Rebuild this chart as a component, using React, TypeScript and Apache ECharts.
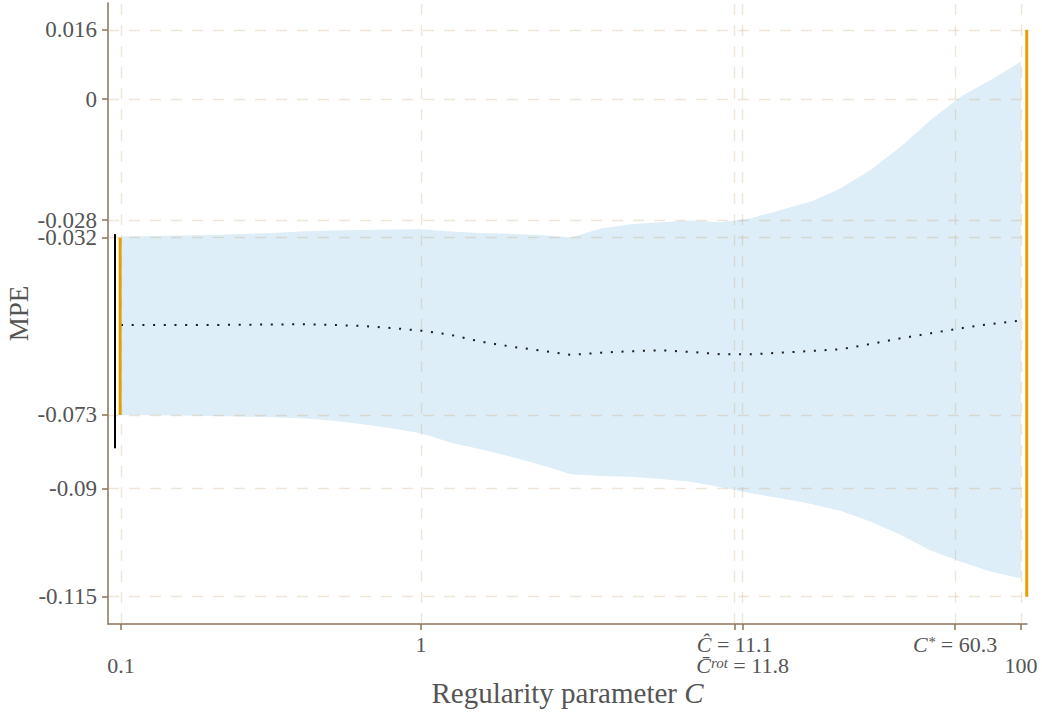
import React, { useEffect, useRef } from "react";
import * as echarts from "echarts";

// Regularity parameter C (log grid)
const cValues = [
  0.1, 0.126, 0.158, 0.2, 0.251, 0.316, 0.398, 0.501, 0.631, 0.794,
  1, 1.26, 1.58, 2, 2.51, 3.16, 3.98, 5.01, 6.31, 7.94,
  10, 12.6, 15.8, 20, 25.1, 31.6, 39.8, 50.1, 63.1, 79.4, 100,
];

const upperBand = [
  -0.03178, -0.03162, -0.0315, -0.03139, -0.03116, -0.03093, -0.03058, -0.03035, -0.03023, -0.03012,
  -0.03007, -0.03058, -0.03093, -0.03116, -0.03139, -0.03197, -0.02989, -0.02891, -0.02845, -0.02808,
  -0.02845, -0.02753, -0.02561, -0.02369, -0.02059, -0.01636, -0.01097, -0.0048, 0.00058, 0.00444, 0.00867,
];

const lowerBand = [
  -0.073, -0.07307, -0.07314, -0.07323, -0.07334, -0.07351, -0.07376, -0.07427, -0.07508, -0.07607,
  -0.07723, -0.0794, -0.08093, -0.08264, -0.08456, -0.08671, -0.0871, -0.08726, -0.08779, -0.08842,
  -0.08971, -0.0911, -0.09225, -0.09357, -0.09519, -0.09766, -0.10074, -0.10437, -0.10691, -0.10922, -0.11075,
];

const meanMPE = [
  -0.05219, -0.05219, -0.05219, -0.05219, -0.05215, -0.0521, -0.05203, -0.05219, -0.05242, -0.05289,
  -0.05351, -0.0545, -0.05605, -0.05721, -0.05813, -0.05913, -0.0586, -0.05827, -0.05804, -0.05843,
  -0.05897, -0.05897, -0.0586, -0.0582, -0.05781, -0.05658, -0.05527, -0.05411, -0.05296, -0.05196, -0.0512,
];

// interval markers
const blackBarX = 0.0955;
const blackBarY = [-0.0312, -0.0807];
const orangeLeftX = 0.0993;
const orangeLeftY = [-0.032, -0.073];
const orangeRightX = 104.5;
const orangeRightY = [0.016, -0.115];

// ticks
const xTickValues = [0.1, 1, 11.1, 11.8, 60.3, 100];
const xTickLabels = [
  "\n0.1",
  "1",
  "{i|Ĉ} = 11.1",
  "\n{i|C̄}{s|rot} = 11.8",
  "{i|C}{s|*} = 60.3",
  "\n100",
];
const yTickValues = [0.016, 0, -0.028, -0.032, -0.073, -0.09, -0.115];
const yTickLabels = ["0.016", "0", "-0.028", "-0.032", "-0.073", "-0.09", "-0.115"];

const FONT = "'Liberation Serif', 'DejaVu Serif', serif";
const TEXT = "#555555";
const AXIS = "#8c7358";
const GRID = "rgba(200,160,120,0.28)";

function findLabel(values: number[], labels: string[], v: number) {
  for (let i = 0; i < values.length; i++) {
    if (Math.abs(values[i] - v) < 1e-6 * Math.max(1, Math.abs(values[i]))) return labels[i];
  }
  return "";
}

export default function App() {
  const ref = useRef<HTMLDivElement>(null);

  useEffect(() => {
    document.body.style.margin = "0";
    if (!ref.current) return;
    const chart = echarts.init(ref.current, null, { renderer: "svg" });

    const pair = (ys: number[]) => cValues.map((c, i) => [c, ys[i]]);

    const option: any = {
      animation: false,
      backgroundColor: "#ffffff",
      grid: {
        left: 108,
        top: 3,
        right: 15,
        bottom: 89,
        containLabel: false,
        outerBoundsMode: "none",
      },
      xAxis: {
        type: "log",
        logBase: 10,
        min: 0.0905,
        max: 104.7,
        name: "Regularity parameter {i|C}",
        nameLocation: "middle",
        nameGap: 54,
        nameMoveOverlap: false,
        nameTextStyle: {
          fontFamily: FONT,
          fontSize: 29,
          color: TEXT,
          rich: { i: { fontFamily: FONT, fontSize: 29, color: TEXT, fontStyle: "italic" } },
        },
        axisLine: { show: true, onZero: false, lineStyle: { color: AXIS, width: 1.5 } },
        axisTick: {
          show: true,
          customValues: xTickValues,
          length: 6,
          lineStyle: { color: AXIS, width: 1.5 },
        },
        axisLabel: {
          show: true,
          customValues: xTickValues,
          margin: 10,
          fontFamily: FONT,
          fontSize: 22,
          lineHeight: 21,
          color: TEXT,
          formatter: (v: number) => findLabel(xTickValues, xTickLabels, v),
          rich: {
            i: { fontFamily: FONT, fontSize: 22, lineHeight: 21, color: TEXT, fontStyle: "italic" },
            s: {
              fontFamily: FONT,
              fontSize: 15,
              lineHeight: 15,
              color: TEXT,
              fontStyle: "italic",
              verticalAlign: "top",
            },
          },
        },
        splitLine: { show: false },
        minorTick: { show: false },
        minorSplitLine: { show: false },
      },
      yAxis: {
        type: "value",
        min: -0.1213,
        max: 0.0222,
        name: "MPE",
        nameLocation: "middle",
        nameGap: 76,
        nameMoveOverlap: false,
        nameTextStyle: { fontFamily: FONT, fontSize: 27, color: TEXT },
        axisLine: { show: true, lineStyle: { color: AXIS, width: 1.5 } },
        axisTick: {
          show: true,
          customValues: yTickValues,
          length: 6,
          lineStyle: { color: AXIS, width: 1.5 },
        },
        axisLabel: {
          show: true,
          customValues: yTickValues,
          margin: 11,
          fontFamily: FONT,
          fontSize: 23,
          color: TEXT,
          formatter: (v: number) => findLabel(yTickValues, yTickLabels, v),
        },
        splitLine: { show: false },
      },
      series: [
        {
          name: "band",
          type: "custom",
          data: cValues.map((c, i) => [c, lowerBand[i], upperBand[i]]),
          encode: { x: 0, y: [1, 2] },
          silent: true,
          z: 1,
          renderItem: (params: any, api: any) => {
            if (params.dataIndex !== 0) return { type: "group", children: [] };
            const pts: number[][] = [];
            for (let i = 0; i < cValues.length; i++) pts.push(api.coord([cValues[i], upperBand[i]]));
            for (let i = cValues.length - 1; i >= 0; i--) pts.push(api.coord([cValues[i], lowerBand[i]]));
            return {
              type: "polygon",
              shape: { points: pts },
              style: { fill: "#ddeef8", stroke: null },
            };
          },
        },
        {
          name: "mean",
          type: "line",
          data: pair(meanMPE),
          symbol: "none",
          lineStyle: { color: "#1a1a1a", width: 2, type: [2, 8.7], cap: "butt" },
          silent: true,
          z: 4,
        },
        {
          name: "grid",
          type: "line",
          data: [],
          symbol: "none",
          silent: true,
          z: 3,
          markLine: {
            silent: true,
            symbol: "none",
            precision: 6,
            label: { show: false },
            lineStyle: { color: GRID, width: 1.4, type: [11, 10] },
            emphasis: { disabled: true },
            data: [
              ...xTickValues.map((v) => ({ xAxis: v })),
              ...yTickValues.map((v) => ({ yAxis: v })),
            ],
          },
        },
        {
          name: "black",
          type: "line",
          data: blackBarY.map((y) => [blackBarX, y]),
          symbol: "none",
          clip: false,
          lineStyle: { color: "#000000", width: 2 },
          silent: true,
          z: 5,
        },
        {
          name: "orangeLeft",
          type: "line",
          data: orangeLeftY.map((y) => [orangeLeftX, y]),
          symbol: "none",
          clip: false,
          lineStyle: { color: "#e69f00", width: 3 },
          silent: true,
          z: 5,
        },
        {
          name: "orangeRight",
          type: "line",
          data: orangeRightY.map((y) => [orangeRightX, y]),
          symbol: "none",
          clip: false,
          lineStyle: { color: "#e69f00", width: 3 },
          silent: true,
          z: 5,
        },
      ],
    };

    chart.setOption(option);
    return () => chart.dispose();
  }, []);

  return <div ref={ref} style={{ width: 1042, height: 713 }} />;
}
